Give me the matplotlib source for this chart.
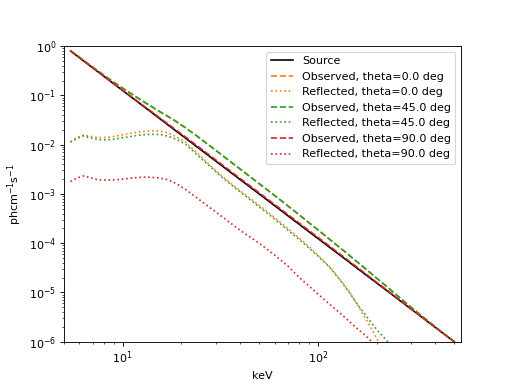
import matplotlib
matplotlib.use("Agg")
import matplotlib.pyplot as plt
import numpy as np

# energy grid (keV) for source / observed spectra
energy = [5.4, 6, 7, 8, 9, 10, 11, 12, 13, 14, 15, 17, 19, 21, 24, 28, 32, 40,
          50, 60, 70, 80, 90, 100, 120, 140, 160, 180, 200, 230, 260, 300,
          350, 400, 450, 500]

source = [0.794, 0.579, 0.364, 0.244, 0.171, 0.125, 0.0939, 0.0723, 0.0569,
          0.0456, 0.0370, 0.0254, 0.0182, 0.0135, 0.00904, 0.00569, 0.00381,
          0.00195, 1.0e-3, 5.79e-4, 3.64e-4, 2.44e-4, 1.71e-4, 1.25e-4,
          7.23e-5, 4.56e-5, 3.05e-5, 2.14e-5, 1.56e-5, 1.03e-5, 7.11e-6,
          4.63e-6, 2.92e-6, 1.95e-6, 1.37e-6, 1.0e-6]

obs_0 = [0.805, 0.593, 0.377, 0.257, 0.185, 0.1405, 0.1103, 0.0882, 0.0722,
         0.0603, 0.0508, 0.0379, 0.0289, 0.0221, 0.0151, 0.00950, 0.00633,
         0.00321, 1.63e-3, 9.35e-4, 5.82e-4, 3.82e-4, 2.63e-4, 1.88e-4,
         1.047e-4, 6.38e-5, 4.10e-5, 2.79e-5, 1.96e-5, 1.235e-5, 8.12e-6,
         5.05e-6, 3.06e-6, 2.00e-6, 1.38e-6, 1.0e-6]

obs_45 = [0.805, 0.593, 0.376, 0.256, 0.1835, 0.139, 0.1090, 0.0871, 0.0712,
          0.0595, 0.0501, 0.0374, 0.0285, 0.0218, 0.0149, 0.00938, 0.00625,
          0.00317, 1.61e-3, 9.24e-4, 5.75e-4, 3.78e-4, 2.60e-4, 1.86e-4,
          1.036e-4, 6.32e-5, 4.07e-5, 2.77e-5, 1.95e-5, 1.23e-5, 8.10e-6,
          5.04e-6, 3.06e-6, 2.00e-6, 1.38e-6, 1.0e-6]

obs_90 = [0.794, 0.580, 0.3655, 0.2457, 0.1727, 0.1269, 0.0958, 0.0741,
          0.0586, 0.0472, 0.0385, 0.02654, 0.01911, 0.01424, 0.00956,
          0.00601, 0.00403, 0.00206, 1.057e-3, 6.12e-4, 3.85e-4, 2.58e-4,
          1.81e-4, 1.321e-4, 7.63e-5, 4.79e-5, 3.19e-5, 2.23e-5, 1.61e-5,
          1.06e-5, 7.25e-6, 4.69e-6, 2.94e-6, 1.96e-6, 1.37e-6, 1.0e-6]

# energy grid (keV) for reflected spectra, values stored as log10(flux)
energy_refl = [5.4, 5.8, 6.3, 6.8, 7.5, 8.2, 9, 10, 11, 12, 13, 14, 15.5, 17,
               19, 21, 24, 28, 32, 40, 50, 60, 70, 80, 90, 100, 115, 130, 145,
               160, 175, 190, 205, 220, 235, 250]

refl_0_log = [-1.94, -1.86, -1.805, -1.83, -1.858, -1.855, -1.835, -1.80,
              -1.77, -1.745, -1.73, -1.723, -1.725, -1.76, -1.85, -1.95,
              -2.17, -2.42, -2.63, -2.94, -3.23, -3.48, -3.70, -3.89, -4.07,
              -4.24, -4.48, -4.74, -4.99, -5.26, -5.52, -5.76, -6.01, -6.25,
              -6.50, -6.75]

refl_45_log = [-1.95, -1.88, -1.824, -1.86, -1.90, -1.905, -1.89, -1.86,
               -1.835, -1.81, -1.795, -1.79, -1.795, -1.825, -1.90, -1.99,
               -2.20, -2.44, -2.65, -2.96, -3.26, -3.51, -3.73, -3.92, -4.10,
               -4.26, -4.49, -4.75, -5.00, -5.25, -5.45, -5.64, -5.80, -5.93,
               -6.06, -6.18]

refl_90_log = [-2.75, -2.68, -2.635, -2.67, -2.716, -2.72, -2.715, -2.70,
               -2.68, -2.665, -2.66, -2.662, -2.68, -2.71, -2.80, -2.91,
               -3.08, -3.28, -3.45, -3.74, -4.00, -4.24, -4.46, -4.69, -4.87,
               -5.03, -5.24, -5.42, -5.59, -5.74, -5.87, -6.01, -6.15, -6.30,
               -6.45, -6.60]

thetas = ["0.0", "45.0", "90.0"]
colors = ["#ff7f0e", "#2ca02c", "#d62728"]

fig, ax = plt.subplots(figsize=(6.4, 4.8), dpi=80)

ax.plot(energy, source, color="black", label="Source")
observed = [obs_0, obs_45, obs_90]
reflected = [refl_0_log, refl_45_log, refl_90_log]
for theta, c, obs, refl in zip(thetas, colors, observed, reflected):
    ax.plot(energy, obs, "--", color=c, label=f"Observed, theta={theta} deg")
    ax.plot(energy_refl, 10 ** np.array(refl), ":", color=c,
            label=f"Reflected, theta={theta} deg")

ax.set_xscale("log")
ax.set_yscale("log")
ax.set_xlim(5, 540)
ax.set_ylim(1e-6, 1)
ax.set_xlabel("keV")
ax.set_ylabel(r"$\mathrm{ph cm^{-1} s^{-1}}$")
ax.legend(loc="upper right")

fig.savefig("out.png", dpi=80)
